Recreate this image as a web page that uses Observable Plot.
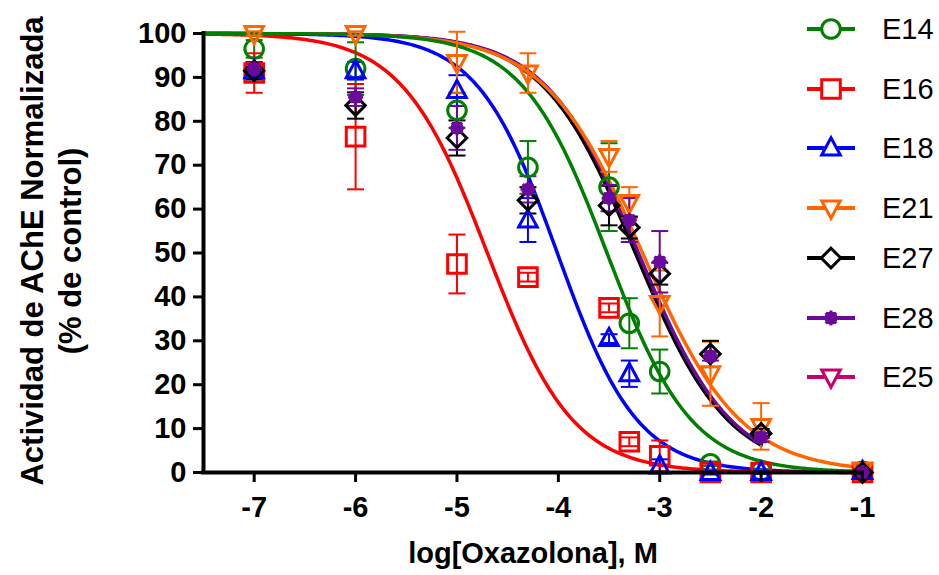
<!DOCTYPE html>
<html><head><meta charset="utf-8">
<script src="https://cdn.jsdelivr.net/npm/d3@7"></script>
<script src="https://cdn.jsdelivr.net/npm/@observablehq/plot@0.6"></script>
<style>body{margin:0;background:#fff} #chart{width:939px;height:575px;}</style>
</head><body><div id="chart"></div>
<script>
// ---- data ----
const xLog = [-7, -6, -5, -4.3, -3.5, -3.3, -3, -2.5, -2, -1];
const xTicks = [-7, -6, -5, -4, -3, -2, -1];
const yTicks = [0, 10, 20, 30, 40, 50, 60, 70, 80, 90, 100];

const e14Mean = [96.5, 92, 82.5, 69.5, 65, 34, 23, 2, 0.4, 0.3];
const e14Sem  = [2, 6, 4, 6, 10, 5.7, 5, 0.5, 0.3, 0.3];
const e16Mean = [91, 76.5, 47.5, 44.5, 37.5, 7, 3.8, 0, 0, 0];
const e16Sem  = [4.5, 12, 6.7, 1, 1, 1, 3.5, 0.5, 0.3, 0.3];
const e18Mean = [91.5, 91.5, 87, 57.5, 30.5, 22.5, 1.5, 0, 0, 0.2];
const e18Sem  = [1, 2, 3.5, 5, 1, 3, 1.5, 0.3, 0.3, 0.3];
const e21Mean = [100, 100, 93.4, 91, 72, 61.5, 38.5, 22.5, 10.5, 0.5];
const e21Sem  = [0.5, 0.5, 7, 4.5, 3.5, 3.5, 7.5, 7.3, 5.3, 0.3];
const e27Mean = [91.5, 83.6, 76.2, 62, 60.8, 55.8, 45.3, 27, 8.9, 0];
const e27Sem  = [2, 3, 4, 3, 4.5, 2.5, 2.5, 3, 1, 0.3];
const e28Mean = [92, 85.5, 78.5, 64.5, 62.5, 57.5, 48, 26.5, 8, 0];
const e28Sem  = [1.5, 2, 5, 3, 3, 5, 7, 1, 1, 0.3];
const e25Mean = [];
const e25Sem  = [];

const seriesNames  = ["E14", "E16", "E18", "E21", "E27", "E28", "E25"];
const seriesColors = ["#008000", "#ff0000", "#0000ff", "#ff6600", "#000000", "#6a0a9a", "#c8006e"];
const seriesMeans  = [e14Mean, e16Mean, e18Mean, e21Mean, e27Mean, e28Mean, e25Mean];
const seriesSems   = [e14Sem, e16Sem, e18Sem, e21Sem, e27Sem, e28Sem, e25Sem];
// sigmoidal dose-response fit (top 100, bottom 0)
const fitLogIC50 = [-3.52, -4.70, -4.01, -3.17, -3.24, -3.21, null];
const fitHill    = [1.04, 1.03, 1.10, 0.90, 0.95, 0.95, null];
const fitEnd     = [-1, -1, -1, -1, -2, -2, null];

// ---- symbols ----
const mk = f => ({draw(ctx, size) { const r = Math.sqrt(size / Math.PI); f(ctx, r); }});
const symCircle = mk((c, r) => { c.moveTo(r, 0); c.arc(0, 0, r, 0, 2 * Math.PI); c.closePath(); });
const symSquare = mk((c, r) => { c.rect(-r, -r, 2 * r, 2 * r); });
const symTriUp = mk((c, r) => { c.moveTo(0, -1.1 * r); c.lineTo(r, 0.75 * r); c.lineTo(-r, 0.75 * r); c.closePath(); });
const symTriDown = mk((c, r) => { c.moveTo(0, 1.1 * r); c.lineTo(r, -0.75 * r); c.lineTo(-r, -0.75 * r); c.closePath(); });
const symDiamond = mk((c, r) => { const d = 1.05 * r; c.moveTo(0, -d); c.lineTo(d, 0); c.lineTo(0, d); c.lineTo(-d, 0); c.closePath(); });
const symStar = mk((c, r) => {
  const a = 0.55 * r; c.moveTo(a, 0); c.arc(0, 0, a, 0, 2 * Math.PI); c.closePath();
  for (let k = 0; k < 4; k++) { const t = k * Math.PI / 4, s = 0.8 * r;
    c.moveTo(Math.cos(t) * s, Math.sin(t) * s); c.lineTo(-Math.cos(t) * s, -Math.sin(t) * s); }
});
const symCap = mk((c, r) => { c.moveTo(-r, 0); c.lineTo(r, 0); });
const seriesSymbols = [symCircle, symSquare, symTriUp, symTriDown, symDiamond, symStar, symTriDown];
const seriesFilled  = [false, false, false, false, false, true, false];

const R = 9.3;
const curveOrder = [6, 4, 5, 3, 2, 1, 0];
const pointOrder = [0, 1, 2, 3, 4, 5, 6];

// ---- build marks ----
const curveMarks = [], errMarks = [], dotMarks = [];
for (const i of curveOrder) {
  if (fitLogIC50[i] == null) continue;
  const pts = [];
  for (let x = -7.5; x <= fitEnd[i] + 1e-9; x += 0.02)
    pts.push({x, y: 100 / (1 + Math.pow(10, (x - fitLogIC50[i]) * fitHill[i]))});
  curveMarks.push(Plot.line(pts, {x: "x", y: "y", stroke: seriesColors[i], strokeWidth: 3.5}));
}
for (const i of pointOrder) {
  const color = seriesColors[i];
  const data = seriesMeans[i].map((m, j) => ({x: xLog[j], y: m, lo: m - seriesSems[i][j], hi: m + seriesSems[i][j]}));
  errMarks.push(Plot.ruleX(data, {x: "x", y1: "lo", y2: "hi", stroke: color, strokeWidth: 2}));
  errMarks.push(Plot.dot(data, {x: "x", y: "hi", symbol: symCap, r: 8.5, stroke: color, fill: "none", strokeWidth: 2}));
  errMarks.push(Plot.dot(data, {x: "x", y: "lo", symbol: symCap, r: 8.5, stroke: color, fill: "none", strokeWidth: 2}));
  dotMarks.push(Plot.dot(data, {x: "x", y: "y", symbol: seriesSymbols[i], r: R, stroke: color,
    fill: seriesFilled[i] ? color : "none", strokeWidth: 3}));
}

const font = "'Liberation Sans', Arial, sans-serif";
const svg = Plot.plot({
  width: 939, height: 575,
  marginLeft: 203, marginRight: 77, marginTop: 33, marginBottom: 103,
  style: {fontFamily: font, fontSize: "29px", fontWeight: "bold", background: "white", overflow: "visible"},
  x: {domain: [-7.5, -1]},
  y: {domain: [0, 100]},
  marks: [
    ...curveMarks,
    ...errMarks,
    ...dotMarks,
    Plot.axisX(xTicks, {tickSize: 10, tickPadding: 14, strokeWidth: 3, tickFormat: d => String(d), label: null, fontSize: 29, fontWeight: "bold"}),
    Plot.axisY(yTicks, {tickSize: 10, tickPadding: 7, strokeWidth: 3, tickFormat: d => String(d), label: null, fontSize: 29, fontWeight: "bold"}),
    Plot.ruleY([0], {strokeWidth: 4, strokeLinecap: "square"}),
    Plot.ruleX([-7.5], {strokeWidth: 4, strokeLinecap: "square"}),
    Plot.text(["log[Oxazolona], M"], {frameAnchor: "bottom", dy: 81, fontSize: 29, fontWeight: "bold", lineAnchor: "middle", textAnchor: "middle"}),
    Plot.text(["Actividad de AChE Normalizada"], {frameAnchor: "left", dx: -170, dy: -2, rotate: -90, fontSize: 31, fontWeight: "bold", lineAnchor: "middle", textAnchor: "middle"}),
    Plot.text(["(% de control)"], {frameAnchor: "left", dx: -132, dy: -2, rotate: -90, fontSize: 31, fontWeight: "bold", lineAnchor: "middle", textAnchor: "middle"})
  ]
});
document.getElementById("chart").appendChild(svg);

// ---- legend ----
const legendY = [29, 89, 148, 208, 258, 318, 377];
const lg = d3.select(svg).append("g").attr("text-anchor", "start");
seriesNames.forEach((name, i) => {
  const g = lg.append("g").attr("transform", `translate(0,${legendY[i]})`);
  g.append("line").attr("x1", 807).attr("x2", 855).attr("y1", 0).attr("y2", 0)
    .attr("stroke", seriesColors[i]).attr("stroke-width", 4);
  g.append("path").attr("transform", "translate(831,0)")
    .attr("d", d3.symbol(seriesSymbols[i], R * R * Math.PI)())
    .attr("fill", seriesFilled[i] ? seriesColors[i] : "white")
    .attr("stroke", seriesColors[i]).attr("stroke-width", 3);
  g.append("text").attr("x", 882).attr("y", 0).attr("dy", "0.36em")
    .attr("text-anchor", "start")
    .attr("font-family", font).attr("font-size", 29).attr("font-weight", "normal")
    .attr("fill", "black").text(name);
});
</script></body></html>
